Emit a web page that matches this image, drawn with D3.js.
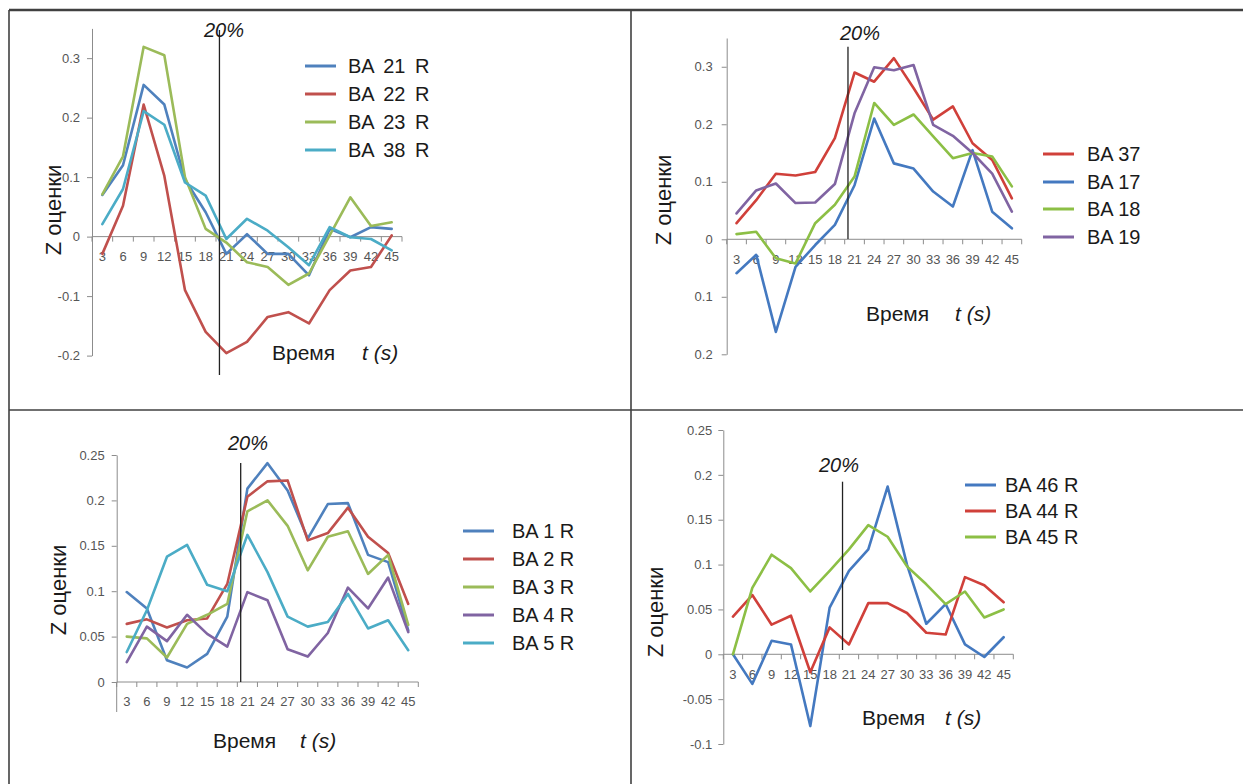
<!DOCTYPE html>
<html>
<head>
<meta charset="utf-8">
<script src="https://cdn.jsdelivr.net/npm/d3@7"></script>
<style>
  body { margin: 0; background: #fff; }
  svg { display: block; font-family: "Liberation Sans", Arial, sans-serif; }
</style>
</head>
<body>
<svg id="chart" width="1243" height="784"></svg>
<script>
const times = [3, 6, 9, 12, 15, 18, 21, 24, 27, 30, 33, 36, 39, 42, 45]
const markerTime = 20
const markerLabel = '20%'

// top left
const namesA = ['BA 21 R', 'BA 22 R', 'BA 23 R', 'BA 38 R']
const ba21r = [0.07, 0.12, 0.255, 0.222, 0.096, 0.041, -0.029, 0.004, -0.029, -0.029, -0.065, 0.013, -0.001, 0.016, 0.013]
const ba22r = [-0.029, 0.052, 0.222, 0.102, -0.09, -0.16, -0.196, -0.177, -0.135, -0.127, -0.146, -0.09, -0.057, -0.051, 0.002]
const ba23r = [0.071, 0.135, 0.319, 0.305, 0.1, 0.013, -0.01, -0.043, -0.051, -0.081, -0.062, 0.002, 0.066, 0.018, 0.024]
const ba38r = [0.021, 0.08, 0.211, 0.188, 0.091, 0.069, -0.004, 0.03, 0.01, -0.018, -0.048, 0.016, -0.001, -0.004, -0.023]
const yTicksA = [-0.2, -0.1, 0, 0.1, 0.2, 0.3]
const yLabelsA = ['-0.2', '-0.1', '0', '0.1', '0.2', '0.3']

// top right
const namesB = ['BA 37', 'BA 17', 'BA 18', 'BA 19']
const ba37 = [0.028, 0.068, 0.114, 0.111, 0.117, 0.176, 0.29, 0.274, 0.315, 0.263, 0.208, 0.231, 0.167, 0.138, 0.071]
const ba17 = [-0.059, -0.027, -0.161, -0.048, -0.01, 0.025, 0.094, 0.21, 0.132, 0.123, 0.083, 0.057, 0.155, 0.048, 0.019]
const ba18 = [0.009, 0.013, -0.033, -0.042, 0.028, 0.06, 0.109, 0.237, 0.199, 0.217, 0.179, 0.141, 0.15, 0.144, 0.092]
const ba19 = [0.045, 0.085, 0.097, 0.063, 0.064, 0.096, 0.219, 0.299, 0.294, 0.303, 0.199, 0.18, 0.15, 0.114, 0.048]
const yTicksB = [-0.2, -0.1, 0, 0.1, 0.2, 0.3]
const yLabelsB = ['0.2', '0.1', '0', '0.1', '0.2', '0.3']

// bottom left
const namesC = ['BA 1 R', 'BA 2 R', 'BA 3 R', 'BA 4 R', 'BA 5 R']
const ba1r = [0.099, 0.081, 0.024, 0.016, 0.031, 0.072, 0.213, 0.241, 0.211, 0.158, 0.196, 0.197, 0.14, 0.132, 0.057]
const ba2r = [0.064, 0.069, 0.06, 0.068, 0.07, 0.108, 0.204, 0.221, 0.222, 0.156, 0.164, 0.192, 0.16, 0.142, 0.086]
const ba3r = [0.05, 0.048, 0.027, 0.064, 0.074, 0.086, 0.188, 0.2, 0.172, 0.123, 0.16, 0.166, 0.119, 0.14, 0.063]
const ba4r = [0.022, 0.061, 0.045, 0.074, 0.053, 0.039, 0.099, 0.09, 0.036, 0.028, 0.054, 0.104, 0.081, 0.115, 0.055]
const ba5r = [0.033, 0.079, 0.138, 0.151, 0.107, 0.1, 0.162, 0.121, 0.072, 0.061, 0.066, 0.097, 0.059, 0.068, 0.035]
const yTicksC = [0, 0.05, 0.1, 0.15, 0.2, 0.25]
const yLabelsC = ['0', '0.05', '0.1', '0.15', '0.2', '0.25']

// bottom right
const namesD = ['BA 46 R', 'BA 44 R', 'BA 45 R']
const ba46r = [0, -0.033, 0.015, 0.011, -0.08, 0.052, 0.093, 0.117, 0.187, 0.1, 0.034, 0.056, 0.011, -0.003, 0.019]
const ba44r = [0.042, 0.066, 0.033, 0.043, -0.02, 0.03, 0.011, 0.057, 0.057, 0.046, 0.024, 0.022, 0.086, 0.077, 0.058]
const ba45r = [0, 0.074, 0.111, 0.096, 0.07, 0.093, 0.117, 0.144, 0.131, 0.098, 0.078, 0.056, 0.07, 0.041, 0.05]
const yTicksD = [-0.1, -0.05, 0, 0.05, 0.1, 0.15, 0.2, 0.25]
const yLabelsD = ['-0.1', '-0.05', '0', '0.05', '0.1', '0.15', '0.2', '0.25']

const yTitle = 'Z оценки'
const xTitle = 'Время'
const xUnit = 't (s)'

const c = {
  blue: '#4F81BD',
  red: '#C0504D',
  green: '#9BBB59',
  purple: '#8064A2',
  aqua: '#4BACC6',
  blue2: '#4479C0',
  red2: '#D0403A',
  green2: '#8CBF45'
}

const svg = d3.select('#chart')

// frame
const frame = svg.append('g')
  .attr('stroke', '#404040')
  .attr('stroke-width', 1.6)
frame.append('line').attr('x1', 9).attr('x2', 1243).attr('y1', 10).attr('y2', 10).attr('stroke-width', 2.4)
frame.append('line').attr('x1', 9).attr('x2', 9).attr('y1', 10).attr('y2', 784)
frame.append('line').attr('x1', 631).attr('x2', 631).attr('y1', 10).attr('y2', 784)
frame.append('line').attr('x1', 9).attr('x2', 1243).attr('y1', 410).attr('y2', 410)

drawPanel({
  x: [92, 402],
  yDomain: [-0.2, 0.35],
  y: [355.6, 28.4],
  yTicks: yTicksA,
  yLabels: yLabelsA,
  labelGap: 7,
  yTitle: [53, 210],
  marker: [30, 375],
  markerText: [224, 37],
  xTitle: [272, 360],
  xUnit: [362, 360],
  legend: { x: 305, textX: 348, y: [66, 94, 122, 150], spacing: 4 },
  series: [
    { name: namesA[0], values: ba21r, color: c.blue },
    { name: namesA[1], values: ba22r, color: c.red },
    { name: namesA[2], values: ba23r, color: c.green },
    { name: namesA[3], values: ba38r, color: c.aqua }
  ]
})

drawPanel({
  x: [726.7, 1021.7],
  yDomain: [-0.2, 0.35],
  y: [354.3, 38],
  yTicks: yTicksB,
  yLabels: yLabelsB,
  labelGap: 9,
  yTitle: [663, 200],
  marker: [46.7, 239],
  markerText: [860, 40],
  xTitle: [866, 321],
  xUnit: [955, 321],
  legend: { x: 1043, textX: 1087, y: [154, 182, 209, 237], spacing: 0 },
  series: [
    { name: namesB[0], values: ba37, color: c.red2 },
    { name: namesB[1], values: ba17, color: c.blue2 },
    { name: namesB[2], values: ba18, color: c.green2 },
    { name: namesB[3], values: ba19, color: c.purple }
  ]
})

drawPanel({
  x: [116.7, 418.3],
  yDomain: [0, 0.25],
  y: [682, 455],
  yExtend: 712,
  yTicks: yTicksC,
  yLabels: yLabelsC,
  labelGap: 7,
  yTitle: [58, 590],
  marker: [463, 682],
  markerText: [248, 450],
  xTitle: [213, 748],
  xUnit: [300, 748],
  legend: { x: 463, textX: 512, y: [531, 559, 587, 615, 643], spacing: 0 },
  series: [
    { name: namesC[0], values: ba1r, color: c.blue },
    { name: namesC[1], values: ba2r, color: c.red },
    { name: namesC[2], values: ba3r, color: c.green },
    { name: namesC[3], values: ba4r, color: c.purple },
    { name: namesC[4], values: ba5r, color: c.aqua }
  ]
})

drawPanel({
  x: [723.3, 1013.3],
  yDomain: [-0.1, 0.25],
  y: [744, 430],
  yTicks: yTicksD,
  yLabels: yLabelsD,
  labelGap: 6,
  yTitle: [655, 612],
  marker: [481.7, 650],
  markerText: [839, 472],
  xTitle: [862, 725],
  xUnit: [945, 725],
  legend: { x: 965, textX: 1005, y: [485, 511, 537], spacing: 0 },
  series: [
    { name: namesD[0], values: ba46r, color: c.blue2 },
    { name: namesD[1], values: ba44r, color: c.red2 },
    { name: namesD[2], values: ba45r, color: c.green2 }
  ]
})

function drawPanel (opt) {
  const g = svg.append('g')

  const band = d3.scaleBand().domain(times).range(opt.x).paddingInner(0).paddingOuter(0)
  const x = (t) => band(t) + band.bandwidth() / 2
  const xTime = d3.scaleLinear().domain([times[0], times[times.length - 1]]).range([x(times[0]), x(times[times.length - 1])])
  const y = d3.scaleLinear().domain(opt.yDomain).range(opt.y)

  // y axis
  const yAxis = g.append('g')
    .attr('transform', `translate(${opt.x[0]},0)`)
    .call(d3.axisLeft(y)
      .tickValues(opt.yTicks)
      .tickFormat((d, i) => opt.yLabels[i])
      .tickSizeInner(5)
      .tickSizeOuter(0)
      .tickPadding(opt.labelGap))
  yAxis.select('.domain').attr('stroke', '#8c8c8c')
  yAxis.selectAll('.tick line').attr('stroke', '#8c8c8c')
  yAxis.selectAll('text')
    .attr('fill', '#555')
    .style('font-size', '13px')
    .style('font-family', '"Liberation Sans", Arial, sans-serif')

  if (opt.yExtend) {
    g.append('line')
      .attr('x1', opt.x[0]).attr('x2', opt.x[0])
      .attr('y1', y(0)).attr('y2', opt.yExtend)
      .attr('stroke', '#8c8c8c')
  }

  // x axis at zero
  const y0 = y(0)
  const xAxis = g.append('g')
    .attr('transform', `translate(0,${y0})`)
    .call(d3.axisBottom(band).tickSize(0).tickPadding(15))
  xAxis.select('.domain').remove()
  xAxis.selectAll('text')
    .attr('fill', '#555')
    .style('font-size', '13px')
    .style('font-family', '"Liberation Sans", Arial, sans-serif')

  g.append('line')
    .attr('x1', opt.x[0]).attr('x2', opt.x[1])
    .attr('y1', y0).attr('y2', y0)
    .attr('stroke', '#8c8c8c')

  const bounds = times.map((t) => band(t)).concat([opt.x[1]])
  g.append('g')
    .selectAll('line')
    .data(bounds)
    .join('line')
    .attr('x1', (d) => d).attr('x2', (d) => d)
    .attr('y1', y0).attr('y2', y0 + 5)
    .attr('stroke', '#8c8c8c')

  // series lines
  const line = d3.line()
    .x((d, i) => x(times[i]))
    .y((d) => y(d))

  g.append('g')
    .selectAll('path')
    .data(opt.series)
    .join('path')
    .attr('d', (s) => line(s.values))
    .attr('fill', 'none')
    .attr('stroke', (s) => s.color)
    .attr('stroke-width', 2.6)
    .attr('stroke-linejoin', 'round')
    .attr('stroke-linecap', 'round')

  // 20% marker
  const mx = xTime(markerTime)
  g.append('line')
    .attr('x1', mx).attr('x2', mx)
    .attr('y1', opt.marker[0]).attr('y2', opt.marker[1])
    .attr('stroke', '#222')
    .attr('stroke-width', 1.3)

  g.append('text')
    .attr('x', opt.markerText[0])
    .attr('y', opt.markerText[1])
    .attr('text-anchor', 'middle')
    .style('font-size', '20px')
    .style('font-style', 'italic')
    .attr('fill', '#1a1a1a')
    .text(markerLabel)

  // axis titles
  g.append('text')
    .attr('transform', `translate(${opt.yTitle[0]},${opt.yTitle[1]}) rotate(-90)`)
    .attr('text-anchor', 'middle')
    .attr('dy', '0.35em')
    .style('font-size', '22px')
    .attr('fill', '#1a1a1a')
    .text(yTitle)

  g.append('text')
    .attr('x', opt.xTitle[0])
    .attr('y', opt.xTitle[1])
    .style('font-size', '21px')
    .attr('fill', '#1a1a1a')
    .text(xTitle)

  g.append('text')
    .attr('x', opt.xUnit[0])
    .attr('y', opt.xUnit[1])
    .style('font-size', '21px')
    .style('font-style', 'italic')
    .attr('fill', '#1a1a1a')
    .text(xUnit)

  // legend
  const leg = g.append('g')
    .selectAll('g')
    .data(opt.series)
    .join('g')
    .attr('transform', (s, i) => `translate(0,${opt.legend.y[i]})`)

  leg.append('line')
    .attr('x1', opt.legend.x).attr('x2', opt.legend.x + 31)
    .attr('y1', 0).attr('y2', 0)
    .attr('stroke', (s) => s.color)
    .attr('stroke-width', 3)

  leg.append('text')
    .attr('x', opt.legend.textX)
    .attr('dy', '0.36em')
    .style('font-size', '20px')
    .style('word-spacing', opt.legend.spacing + 'px')
    .attr('fill', '#1a1a1a')
    .text((s) => s.name)
}
</script>
</body>
</html>
